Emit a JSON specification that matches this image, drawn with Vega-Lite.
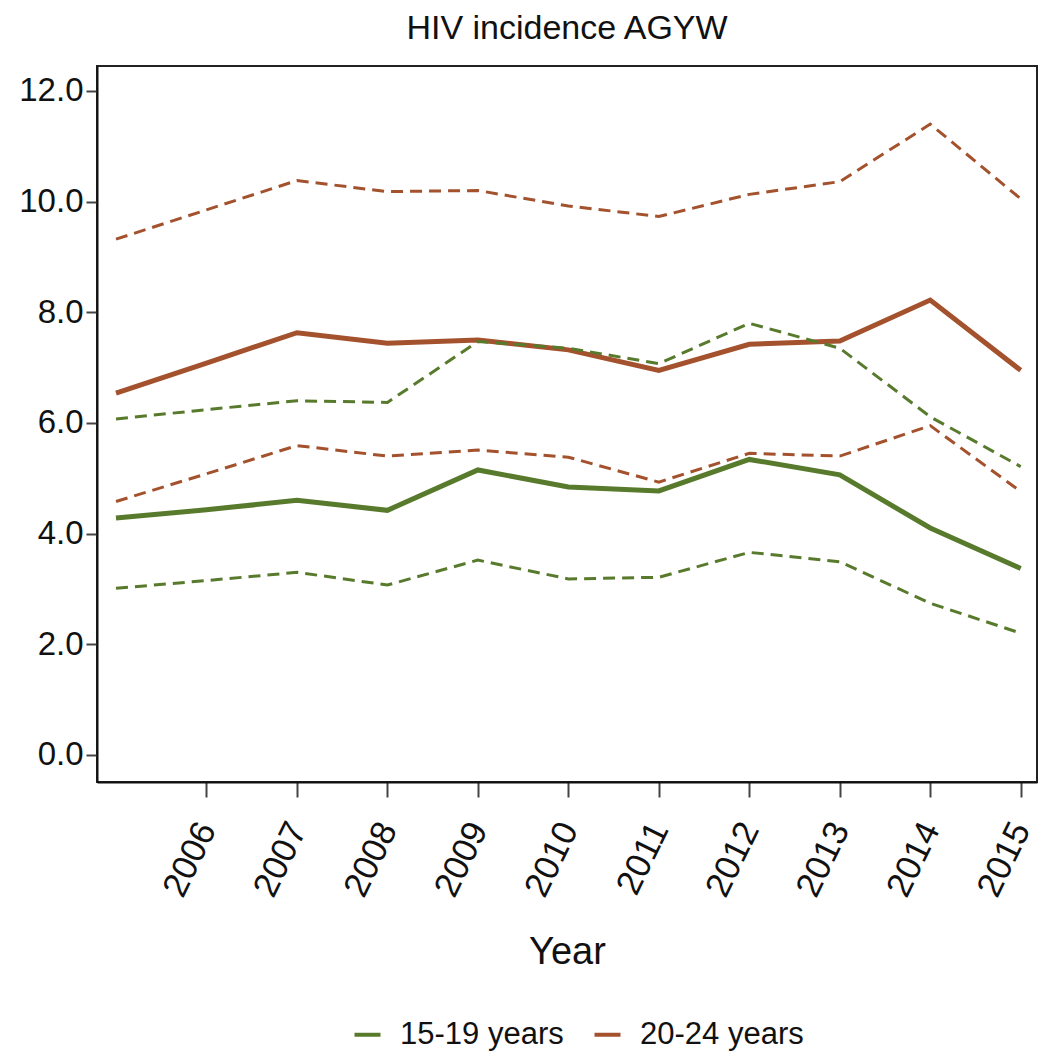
{
  "$schema": "https://vega.github.io/schema/vega-lite/v6.json",
  "autosize": {"type": "none"},
  "width": 940,
  "height": 716,
  "padding": {"left": 97, "top": 66, "right": 4, "bottom": 274},
  "background": "white",
  "config": {
    "font": "Liberation Sans",
    "view": {"stroke": "#222", "strokeWidth": 2},
    "axis": {"grid": false, "domainColor": "#111", "domainWidth": 2, "tickColor": "#444", "tickWidth": 2, "labelColor": "#111", "titleColor": "#111", "labelFont": "Liberation Sans", "titleFont": "Liberation Sans", "titleFontWeight": "normal"},
    "legend": {"labelFont": "Liberation Sans"}
  },
  "title": {"text": "HIV incidence AGYW", "fontSize": 34, "fontWeight": "normal", "color": "#111", "baseline": "alphabetic", "offset": -7, "anchor": "middle", "font": "Liberation Sans"},
  "data": {"values": [
    {"year": 2005, "group": "15-19 years", "stat": "est", "value": 4.28},
    {"year": 2006, "group": "15-19 years", "stat": "est", "value": 4.43},
    {"year": 2007, "group": "15-19 years", "stat": "est", "value": 4.60},
    {"year": 2008, "group": "15-19 years", "stat": "est", "value": 4.42},
    {"year": 2009, "group": "15-19 years", "stat": "est", "value": 5.15},
    {"year": 2010, "group": "15-19 years", "stat": "est", "value": 4.84},
    {"year": 2011, "group": "15-19 years", "stat": "est", "value": 4.77},
    {"year": 2012, "group": "15-19 years", "stat": "est", "value": 5.34},
    {"year": 2013, "group": "15-19 years", "stat": "est", "value": 5.06},
    {"year": 2014, "group": "15-19 years", "stat": "est", "value": 4.10},
    {"year": 2015, "group": "15-19 years", "stat": "est", "value": 3.37},
    {"year": 2005, "group": "15-19 years", "stat": "lo", "value": 3.01},
    {"year": 2006, "group": "15-19 years", "stat": "lo", "value": 3.15},
    {"year": 2007, "group": "15-19 years", "stat": "lo", "value": 3.30},
    {"year": 2008, "group": "15-19 years", "stat": "lo", "value": 3.07},
    {"year": 2009, "group": "15-19 years", "stat": "lo", "value": 3.52},
    {"year": 2010, "group": "15-19 years", "stat": "lo", "value": 3.18},
    {"year": 2011, "group": "15-19 years", "stat": "lo", "value": 3.21},
    {"year": 2012, "group": "15-19 years", "stat": "lo", "value": 3.66},
    {"year": 2013, "group": "15-19 years", "stat": "lo", "value": 3.49},
    {"year": 2014, "group": "15-19 years", "stat": "lo", "value": 2.74},
    {"year": 2015, "group": "15-19 years", "stat": "lo", "value": 2.20},
    {"year": 2005, "group": "15-19 years", "stat": "hi", "value": 6.07},
    {"year": 2006, "group": "15-19 years", "stat": "hi", "value": 6.24},
    {"year": 2007, "group": "15-19 years", "stat": "hi", "value": 6.40},
    {"year": 2008, "group": "15-19 years", "stat": "hi", "value": 6.37},
    {"year": 2009, "group": "15-19 years", "stat": "hi", "value": 7.47},
    {"year": 2010, "group": "15-19 years", "stat": "hi", "value": 7.35},
    {"year": 2011, "group": "15-19 years", "stat": "hi", "value": 7.07},
    {"year": 2012, "group": "15-19 years", "stat": "hi", "value": 7.80},
    {"year": 2013, "group": "15-19 years", "stat": "hi", "value": 7.35},
    {"year": 2014, "group": "15-19 years", "stat": "hi", "value": 6.11},
    {"year": 2015, "group": "15-19 years", "stat": "hi", "value": 5.21},
    {"year": 2005, "group": "20-24 years", "stat": "est", "value": 6.54},
    {"year": 2006, "group": "20-24 years", "stat": "est", "value": 7.08},
    {"year": 2007, "group": "20-24 years", "stat": "est", "value": 7.63},
    {"year": 2008, "group": "20-24 years", "stat": "est", "value": 7.44},
    {"year": 2009, "group": "20-24 years", "stat": "est", "value": 7.50},
    {"year": 2010, "group": "20-24 years", "stat": "est", "value": 7.32},
    {"year": 2011, "group": "20-24 years", "stat": "est", "value": 6.95},
    {"year": 2012, "group": "20-24 years", "stat": "est", "value": 7.42},
    {"year": 2013, "group": "20-24 years", "stat": "est", "value": 7.48},
    {"year": 2014, "group": "20-24 years", "stat": "est", "value": 8.22},
    {"year": 2015, "group": "20-24 years", "stat": "est", "value": 6.95},
    {"year": 2005, "group": "20-24 years", "stat": "lo", "value": 4.58},
    {"year": 2006, "group": "20-24 years", "stat": "lo", "value": 5.08},
    {"year": 2007, "group": "20-24 years", "stat": "lo", "value": 5.59},
    {"year": 2008, "group": "20-24 years", "stat": "lo", "value": 5.40},
    {"year": 2009, "group": "20-24 years", "stat": "lo", "value": 5.51},
    {"year": 2010, "group": "20-24 years", "stat": "lo", "value": 5.38},
    {"year": 2011, "group": "20-24 years", "stat": "lo", "value": 4.93},
    {"year": 2012, "group": "20-24 years", "stat": "lo", "value": 5.45},
    {"year": 2013, "group": "20-24 years", "stat": "lo", "value": 5.40},
    {"year": 2014, "group": "20-24 years", "stat": "lo", "value": 5.95},
    {"year": 2015, "group": "20-24 years", "stat": "lo", "value": 4.76},
    {"year": 2005, "group": "20-24 years", "stat": "hi", "value": 9.32},
    {"year": 2006, "group": "20-24 years", "stat": "hi", "value": 9.85},
    {"year": 2007, "group": "20-24 years", "stat": "hi", "value": 10.38},
    {"year": 2008, "group": "20-24 years", "stat": "hi", "value": 10.18},
    {"year": 2009, "group": "20-24 years", "stat": "hi", "value": 10.20},
    {"year": 2010, "group": "20-24 years", "stat": "hi", "value": 9.92},
    {"year": 2011, "group": "20-24 years", "stat": "hi", "value": 9.73},
    {"year": 2012, "group": "20-24 years", "stat": "hi", "value": 10.13},
    {"year": 2013, "group": "20-24 years", "stat": "hi", "value": 10.36},
    {"year": 2014, "group": "20-24 years", "stat": "hi", "value": 11.40},
    {"year": 2015, "group": "20-24 years", "stat": "hi", "value": 10.05}
  ]},
  "encoding": {
    "x": {"field": "year", "type": "quantitative",
      "scale": {"domain": [2004.79, 2015.18], "nice": false, "zero": false},
      "axis": {"title": "Year", "values": [2006, 2007, 2008, 2009, 2010, 2011, 2012, 2013, 2014, 2015], "format": "d", "labelAngle": -64, "labelFontSize": 35, "labelPadding": 27, "tickSize": 15, "titleFontSize": 38, "titleBaseline": "alphabetic", "titleY": 181, "titleX": 470}},
    "y": {"field": "value", "type": "quantitative",
      "scale": {"domain": [-0.49, 12.45], "nice": false, "zero": false},
      "axis": {"title": null, "values": [0, 2, 4, 6, 8, 10, 12], "format": ".1f", "labelFontSize": 33, "labelPadding": 3, "tickSize": 11}},
    "color": {"field": "group", "type": "nominal",
      "scale": {"domain": ["15-19 years", "20-24 years"], "range": ["#587A2C", "#A3522D"]},
      "legend": {"title": null, "orient": "none", "direction": "horizontal", "legendX": 255, "legendY": 953, "symbolType": "stroke", "symbolSize": 676, "symbolStrokeWidth": 4, "labelFontSize": 31, "labelLimit": 400, "labelColor": "#111", "labelOffset": 17, "columnPadding": 22, "symbolOpacity": 1}}
  },
  "layer": [
    {"transform": [{"filter": "datum.stat === 'est'"}],
     "mark": {"type": "line", "strokeWidth": 5, "strokeCap": "butt", "strokeJoin": "miter"},
     "encoding": {"detail": {"field": "stat"}}},
    {"transform": [{"filter": "datum.stat !== 'est'"}],
     "mark": {"type": "line", "strokeWidth": 3, "strokeDash": [12, 7], "strokeCap": "butt", "strokeJoin": "miter"},
     "encoding": {"detail": {"field": "stat"}}}
  ]
}
